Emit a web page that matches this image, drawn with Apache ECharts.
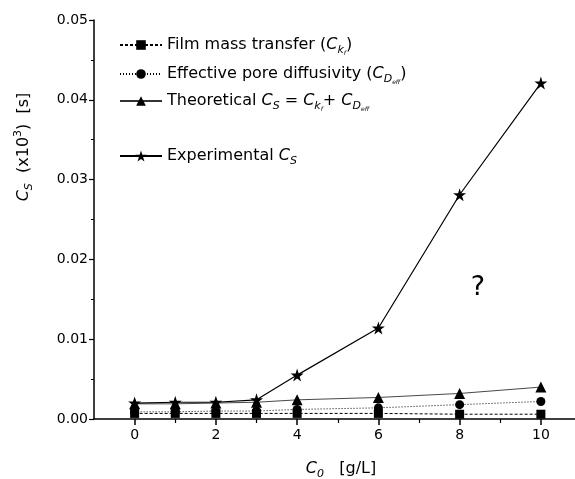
<!DOCTYPE html>
<html>
<head>
<meta charset="utf-8">
<script src="https://cdn.jsdelivr.net/npm/echarts@6/dist/echarts.min.js"></script>
<style>
  html, body { margin: 0; padding: 0; background: #fff; }
  #chart { width: 575px; height: 479px; }
</style>
</head>
<body>
<div id="chart"></div>
<script>
// Feed concentration C0 [g/L]
const concentrations = [0, 1, 2, 3, 4, 6, 8, 10];
// C_S contributions (x10^3) [s]
const filmMassTransfer = [0.0007, 0.0007, 0.0007, 0.0007, 0.0007, 0.0007, 0.0006, 0.0006];
const poreDiffusivity = [0.0009, 0.0009, 0.0010, 0.0010, 0.0012, 0.0014, 0.0018, 0.0022];
const theoreticalCs = [0.0019, 0.0019, 0.0020, 0.0021, 0.0024, 0.0027, 0.0032, 0.0040];
const experimentalCs = [0.0020, 0.0021, 0.0021, 0.0024, 0.0055, 0.0114, 0.0281, 0.0421];

const xMajorTicks = [0, 2, 4, 6, 8, 10];
const xMinorTicks = [1, 3, 5, 7, 9];

const seriesNames = ['Film mass transfer', 'Effective pore diffusivity', 'Theoretical', 'Experimental'];
const legendLabels = {
  'Film mass transfer': 'Film mass transfer ({i|C}{sub|k}{ss|f})',
  'Effective pore diffusivity': 'Effective pore diffusivity ({i|C}{sub|D}{ss|eff})',
  'Theoretical': 'Theoretical {i|C}{sub|S} = {i|C}{sub|k}{ss|f}+ {i|C}{sub|D}{ss|eff}',
  'Experimental': 'Experimental {i|C}{sub|S}'
};

const FONT = '"DejaVu Sans", "Liberation Sans", Arial, sans-serif';
const STAR = 'path://M50 0 L61.17 34.63 L97.55 34.55 L68.07 55.87 L79.39 90.45 L50 69 L20.61 90.45 L31.93 55.87 L2.45 34.55 L38.83 34.63 Z';

const richText = {
  i: { fontStyle: 'italic', fontSize: 16, fontFamily: FONT, color: '#000', lineHeight: 22 },
  sub: { fontStyle: 'italic', fontSize: 11, fontFamily: FONT, color: '#000', verticalAlign: 'bottom', lineHeight: 14 },
  ss: { fontStyle: 'italic', fontSize: 6, fontFamily: FONT, color: '#000', verticalAlign: 'bottom', lineHeight: 8 },
  sup: { fontSize: 11, fontFamily: FONT, color: '#000', verticalAlign: 'top', lineHeight: 14 }
};

const pairs = ys => concentrations.map((x, k) => [x, ys[k]]);

function legendAt(name, top, iconH) {
  return {
    data: [name],
    left: 119,
    top: top,
    orient: 'vertical',
    padding: 0,
    itemWidth: 42,
    itemHeight: iconH,
    formatter: n => legendLabels[n],
    textStyle: { fontSize: 16, fontFamily: FONT, color: '#000', lineHeight: 22, rich: richText },
    selectedMode: false
  };
}

const chart = echarts.init(document.getElementById('chart'), null, { renderer: 'canvas' });

chart.setOption({
  animation: false,
  backgroundColor: '#fff',
  grid: { left: 94, top: 20, right: 0, bottom: 60, containLabel: false },
  legend: [
    legendAt(seriesNames[0], 34, 12),
    legendAt(seriesNames[1], 63, 12),
    legendAt(seriesNames[2], 90, 12),
    legendAt(seriesNames[3], 145, 14)
  ],
  xAxis: [
    {
      type: 'value', min: -1, max: 10.84,
      axisLine: { show: true, onZero: false, lineStyle: { color: '#000', width: 1.5 } },
      axisTick: { show: true, customValues: xMajorTicks, length: 6, lineStyle: { color: '#000', width: 1.5 } },
      axisLabel: { customValues: xMajorTicks, color: '#000', fontSize: 14, fontFamily: FONT, margin: 9 },
      splitLine: { show: false }
    },
    {
      type: 'value', min: -1, max: 10.84, position: 'bottom',
      axisLine: { show: false, onZero: false },
      axisTick: { show: true, customValues: xMinorTicks, length: 4, lineStyle: { color: '#000', width: 1.2 } },
      axisLabel: { show: false },
      splitLine: { show: false }
    }
  ],
  yAxis: {
    type: 'value', min: 0, max: 0.05, interval: 0.01,
    axisLine: { show: true, onZero: false, lineStyle: { color: '#000', width: 1.5 } },
    axisTick: { show: true, length: 5, lineStyle: { color: '#000', width: 1.2 } },
    minorTick: { show: true, splitNumber: 2, length: 3, lineStyle: { color: '#000', width: 1 } },
    axisLabel: { color: '#000', fontSize: 14, fontFamily: FONT, margin: 6, formatter: v => v.toFixed(2) },
    splitLine: { show: false }
  },
  series: [
    {
      name: seriesNames[1], type: 'line', data: pairs(poreDiffusivity), z: 2,
      symbol: 'circle', symbolSize: 9,
      lineStyle: { color: '#000', width: 1, type: [1, 2] },
      itemStyle: { color: '#000' }
    },
    {
      name: seriesNames[0], type: 'line', data: pairs(filmMassTransfer), z: 3,
      symbol: 'rect', symbolSize: 9,
      lineStyle: { color: '#000', width: 1, type: [3, 2] },
      itemStyle: { color: '#000' }
    },
    {
      name: seriesNames[2], type: 'line', data: pairs(theoreticalCs), z: 4,
      symbol: 'triangle', symbolSize: 11,
      lineStyle: { color: '#333', width: 0.9, type: 'solid' },
      itemStyle: { color: '#000' }
    },
    {
      name: seriesNames[3], type: 'line', data: pairs(experimentalCs), z: 5,
      symbol: STAR, symbolSize: 13,
      lineStyle: { color: '#000', width: 1.2, type: 'solid' },
      itemStyle: { color: '#000' }
    }
  ],
  graphic: [
    {
      type: 'text', x: 24, y: 147, rotation: Math.PI / 2,
      style: {
        text: '{i|C}{sub|S}  (x10{sup|3})  [s]',
        font: '16px ' + FONT, fill: '#000', align: 'center', verticalAlign: 'middle',
        lineHeight: 22, rich: richText
      }
    },
    {
      type: 'text', x: 341, y: 469,
      style: {
        text: '{i|C}{sub|0}   [g/L]',
        font: '16px ' + FONT, fill: '#000', align: 'center', verticalAlign: 'middle',
        lineHeight: 22, rich: richText
      }
    },
    {
      type: 'text', x: 478, y: 288,
      style: { text: '?', font: '27px ' + FONT, fill: '#000', align: 'center', verticalAlign: 'middle' }
    }
  ]
});
</script>
</body>
</html>
